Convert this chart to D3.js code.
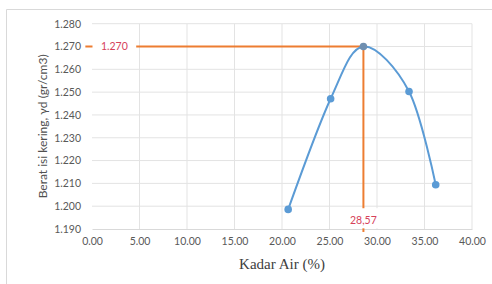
<!DOCTYPE html>
<html>
<head>
<meta charset="utf-8">
<script src="https://cdn.jsdelivr.net/npm/d3@7"></script>
<style>
  body { margin: 0; background: #fff; }
  svg { display: block; }
  .serif-title { font-family: "Liberation Serif", "DejaVu Serif", "Times New Roman", serif; }
</style>
</head>
<body>
<div id="chart"></div>
<script>
// data
const kadarAir = [20.65, 25.12, 28.57, 33.37, 36.18];
const beratIsi = [1.1986, 1.2471, 1.270, 1.2503, 1.2094];
const xTicks = [0, 5, 10, 15, 20, 25, 30, 35, 40];
const yTicks = [1.19, 1.20, 1.21, 1.22, 1.23, 1.24, 1.25, 1.26, 1.27, 1.28];
const optX = 28.57;
const optY = 1.270;
const optXLabel = "28,57";
const optYLabel = "1.270";

const width = 492, height = 284;
const margin = { left: 92, right: 20, top: 23.7, bottom: 55 };

const svg = d3.select("#chart").append("svg")
    .attr("width", width)
    .attr("height", height);

// chart frame
svg.append("path")
    .attr("d", "M6.5," + height + "V9.5H" + width)
    .attr("fill", "none")
    .attr("stroke", "#d9d9d9");

const x = d3.scaleLinear().domain([0, 40]).range([margin.left, width - margin.right]);
const y = d3.scaleLinear().domain([1.19, 1.28]).range([height - margin.bottom, margin.top]);

// gridlines
svg.append("g").selectAll("line").data(xTicks.slice(1)).join("line")
    .attr("x1", d => x(d)).attr("x2", d => x(d))
    .attr("y1", y(1.28)).attr("y2", y(1.19))
    .attr("stroke", "#e3e3e3");
svg.append("g").selectAll("line").data(yTicks.slice(1)).join("line")
    .attr("x1", x(0)).attr("x2", x(40))
    .attr("y1", d => y(d)).attr("y2", d => y(d))
    .attr("stroke", "#e3e3e3");

const xAxis = d3.axisBottom(x).tickValues(xTicks).tickFormat(d3.format(".2f")).tickSize(0).tickPadding(9);
const yAxis = d3.axisLeft(y).tickValues(yTicks).tickFormat(d3.format(".3f")).tickSize(0).tickPadding(11);

const gx = svg.append("g").attr("transform", "translate(0," + y(1.19) + ")").call(xAxis);
const gy = svg.append("g").attr("transform", "translate(" + x(0) + ",0)").call(yAxis);
gx.select(".domain").attr("stroke", "#d9d9d9");
gy.select(".domain").remove();
svg.selectAll(".tick text")
    .attr("fill", "#595959")
    .attr("font-family", "Lato, sans-serif")
    .attr("font-size", "10.5px");

// axis titles
svg.append("text")
    .attr("class", "serif-title")
    .attr("transform", "translate(" + (x(20)) + ",269)")
    .attr("text-anchor", "middle")
    .attr("font-size", "15px")
    .attr("fill", "#404040")
    .text("Kadar Air (%)");

svg.append("text")
    .attr("transform", "translate(47," + ((y(1.19) + y(1.28)) / 2) + ") rotate(-90)")
    .attr("text-anchor", "middle")
    .attr("font-family", "Lato, sans-serif")
    .attr("font-size", "12px")
    .attr("fill", "#505050")
    .text("Berat isi kering, γd (gr/cm3)");

// orange guide lines
const orange = "#ed7d31";
svg.append("line")
    .attr("x1", x(-0.7)).attr("x2", x(optX))
    .attr("y1", y(optY)).attr("y2", y(optY))
    .attr("stroke", orange).attr("stroke-width", 2);
svg.append("line")
    .attr("x1", x(optX)).attr("x2", x(optX))
    .attr("y1", y(optY)).attr("y2", y(1.1887))
    .attr("stroke", orange).attr("stroke-width", 2);

// label boxes
const labelFont = "Lato, sans-serif";
svg.append("rect")
    .attr("x", x(0) + 0.5).attr("y", y(optY) - 8)
    .attr("width", x(4.6) - x(0)).attr("height", 16)
    .attr("fill", "#fff");
svg.append("text")
    .attr("x", x(2.35)).attr("y", y(optY) + 3.8)
    .attr("text-anchor", "middle")
    .attr("font-family", labelFont).attr("font-size", "10.5px")
    .attr("fill", "#d6415a")
    .text(optYLabel);

svg.append("rect")
    .attr("x", x(optX) - 16).attr("y", y(1.1991))
    .attr("width", 32).attr("height", y(1.1903) - y(1.1991))
    .attr("fill", "#fff");
svg.append("text")
    .attr("x", x(optX)).attr("y", y(1.1922))
    .attr("text-anchor", "middle")
    .attr("font-family", labelFont).attr("font-size", "10.5px")
    .attr("fill", "#d6415a")
    .text(optXLabel);

// smoothed series
const blue = "#5b9bd5";
const pts = kadarAir.map((d, i) => [x(d), y(beratIsi[i])]);
svg.append("path")
    .attr("d", d3.line().curve(d3.curveCardinal.tension(0))(pts))
    .attr("fill", "none")
    .attr("stroke", blue)
    .attr("stroke-width", 2);

svg.append("g").selectAll("circle").data(pts).join("circle")
    .attr("cx", d => d[0]).attr("cy", d => d[1])
    .attr("r", 3.8)
    .attr("fill", (d, i) => kadarAir[i] === optX ? "#6f8fb0" : blue);
</script>
</body>
</html>
